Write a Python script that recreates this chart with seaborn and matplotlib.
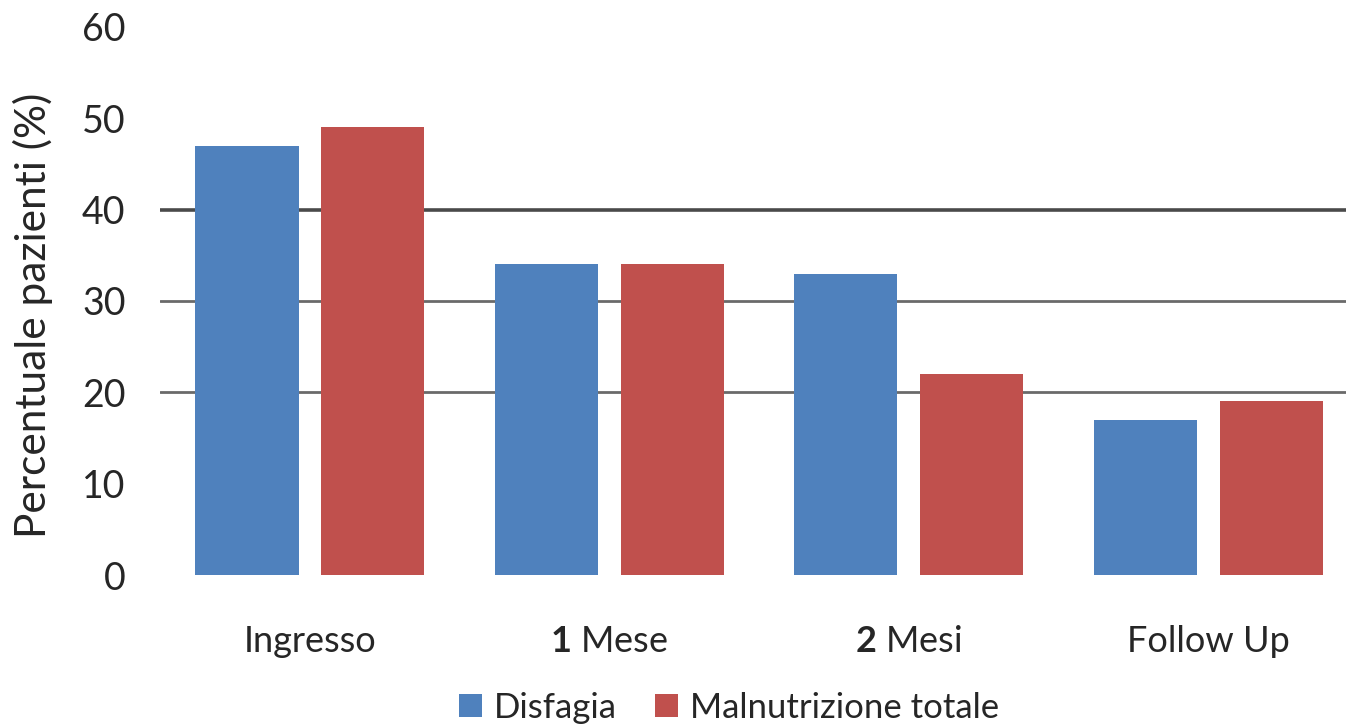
import matplotlib
matplotlib.use("Agg")
import matplotlib.pyplot as plt
import seaborn as sns
import pandas as pd

# Data
categories = [r"Ingresso", r"$\mathbf{1}$ Mese", r"$\mathbf{2}$ Mesi", r"Follow Up"]
disfagia = [47, 34, 33, 17]
malnutrizione = [49, 34, 22, 19]
series_names = ["Disfagia", "Malnutrizione totale"]
y_ticks = [0, 10, 20, 30, 40, 50, 60]

df = pd.DataFrame({
    "fase": categories * 2,
    "valore": disfagia + malnutrizione,
    "serie": [series_names[0]] * len(categories) + [series_names[1]] * len(categories),
})

sns.set_theme(style="white")
plt.rcParams["font.family"] = ["Lato", "DejaVu Sans"]
plt.rcParams["mathtext.fontset"] = "custom"
plt.rcParams["mathtext.rm"] = "Lato"
plt.rcParams["mathtext.bf"] = "Lato:bold"

palette = {"Disfagia": "#4F81BD", "Malnutrizione totale": "#C0504D"}

fig = plt.figure(figsize=(13.46, 7.27), dpi=100)
ax = fig.add_axes([0.119, 0.209, 0.881, 0.754])

sns.barplot(data=df, x="fase", y="valore", hue="serie", palette=palette,
            width=0.84, gap=0.18, saturation=1, linewidth=0,
            ax=ax, zorder=3, legend=True)

# horizontal reference lines
for lvl, lw, col in [(20, 2.0, "#6a6a6a"), (30, 2.0, "#6a6a6a"), (40, 2.6, "#4a4a4a")]:
    ax.axhline(lvl, color=col, lw=lw, zorder=1)

ax.set_ylim(0, 60)
ax.set_xlim(-0.5, 3.46)
ax.set_yticks(y_ticks)
ax.set_yticklabels([str(t) for t in y_ticks], fontsize=27)
ax.tick_params(axis="y", length=0, pad=25)
ax.tick_params(axis="x", length=0, pad=36, labelsize=26)
ax.set_xlabel("")
ax.set_ylabel("Percentuale pazienti (%)", fontsize=30.5)
ax.yaxis.set_label_coords(-0.09, 0.473)
for s in ax.spines.values():
    s.set_visible(False)

handles, labels = ax.get_legend_handles_labels()
ax.legend_.remove()
fig.legend(handles, labels, loc="center", bbox_to_anchor=(0.5416, 0.026),
           ncol=2, frameon=False, fontsize=25, handlelength=0.65,
           handleheight=0.65, handletextpad=0.35, columnspacing=1.1,
           borderaxespad=0)

fig.savefig("out.png", dpi=100)
